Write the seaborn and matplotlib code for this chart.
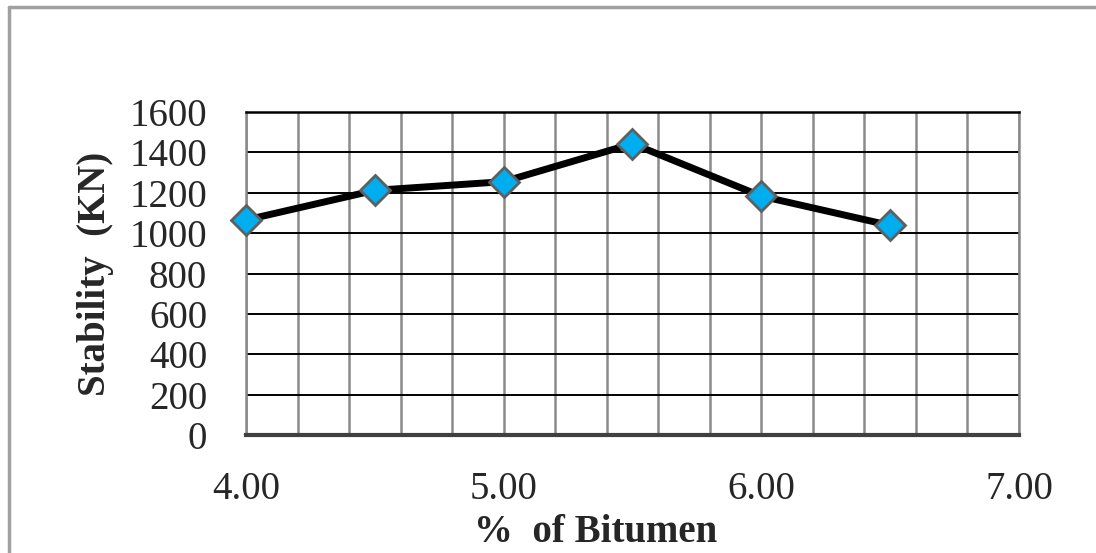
import numpy as np
import pandas as pd
import seaborn as sns
import matplotlib.pyplot as plt
from matplotlib.lines import Line2D

# data
bitumen = [4.0, 4.5, 5.0, 5.5, 6.0, 6.5]
stability = [1065, 1212, 1255, 1443, 1183, 1038]
x_ticks = [4.0, 5.0, 6.0, 7.0]
y_ticks = [0, 200, 400, 600, 800, 1000, 1200, 1400, 1600]

df = pd.DataFrame({"Bitumen": bitumen, "Stability": stability})

sns.set_style("white")
plt.rcParams['font.family'] = ['Liberation Serif', 'DejaVu Serif']

fig = plt.figure(figsize=(10.96, 5.53), dpi=100)
ax = fig.add_axes([246 / 1096, 1 - 435 / 553, (1019 - 246) / 1096, (435 - 112) / 553])

sns.lineplot(data=df, x="Bitumen", y="Stability", ax=ax, color="black",
             linewidth=5, marker="D", markersize=15, markerfacecolor="#00AEEF",
             markeredgecolor="#5f5f5f", markeredgewidth=2, zorder=5, clip_on=False)

ax.set_xlim(4.0, 7.0)
ax.set_ylim(0, 1600)
ax.set_xticks(x_ticks)
ax.set_xticklabels([f"{v:.2f}" for v in x_ticks])
ax.set_xticks(np.arange(4.0, 7.01, 0.2), minor=True)
ax.set_yticks(y_ticks)

ax.grid(which="minor", axis="x", color="#8a8a8a", linewidth=1.8)
ax.grid(which="major", axis="x", color="#8a8a8a", linewidth=1.8)
ax.grid(which="major", axis="y", color="black", linewidth=1.4)
ax.tick_params(axis="both", which="both", length=0, labelsize=28)
ax.tick_params(axis="x", pad=26)
ax.tick_params(axis="y", pad=28)

for s in ["left", "right", "top"]:
    ax.spines[s].set_color("#8a8a8a")
    ax.spines[s].set_linewidth(1.8)
ax.spines["top"].set_color("black")
ax.spines["bottom"].set_color("#404040")
ax.spines["bottom"].set_linewidth(3)

ax.set_xlabel("%  of Bitumen", fontsize=28, fontweight="bold")
ax.xaxis.set_label_coords((596 - 246) / 773, -0.245)
ax.set_ylabel("Stability  (KN)", fontsize=28, fontweight="bold", labelpad=11)

# outer chart frame (left and top edges visible)
fig.add_artist(Line2D([9 / 1096, 9 / 1096], [0, 1 - 7 / 553], color="#a0a0a0", linewidth=2.5))
fig.add_artist(Line2D([9 / 1096, 1], [1 - 7 / 553, 1 - 7 / 553], color="#a0a0a0", linewidth=2.5))

fig.savefig("out.png", dpi=100)
